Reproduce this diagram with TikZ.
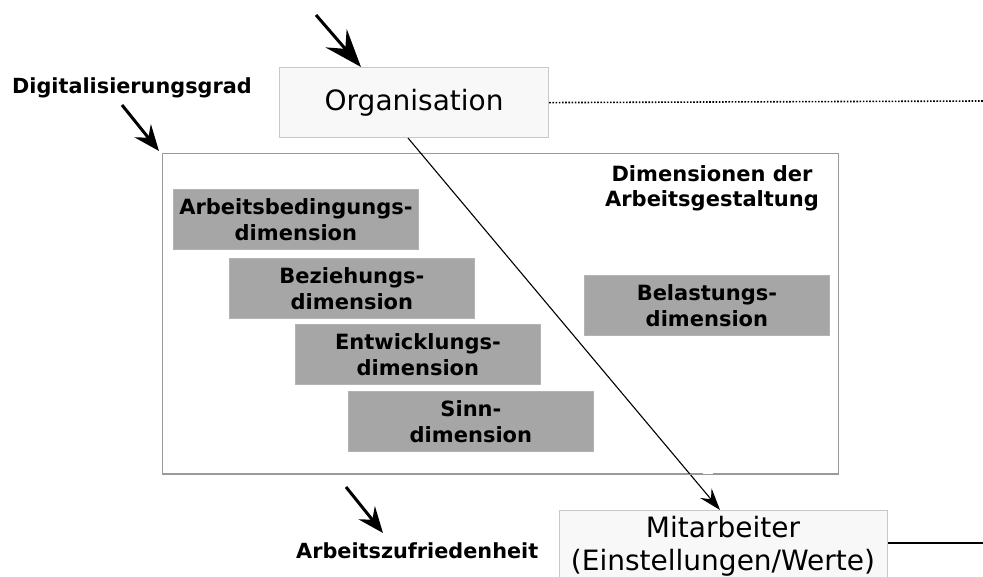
\documentclass[tikz,border=0pt]{standalone}
\usepackage{fontspec}
\setmainfont{DejaVu Sans}
\usetikzlibrary{arrows.meta,calc}
\definecolor{boxline}{HTML}{C8C8C8}
\definecolor{boxfill}{HTML}{F8F8F8}
\definecolor{dimfill}{HTML}{A6A6A6}
\definecolor{frameline}{HTML}{9A9A9A}
\tikzset{
  x=1pt, y=-1pt,
  plainbox/.style={draw=boxline, line width=1.2pt, fill=boxfill, inner sep=0pt, anchor=north west,
    font=\fontsize{28}{36}\selectfont, align=center},
  dimbox/.style={draw=dimfill!85!white, line width=0.8pt, fill=dimfill, inner sep=0pt, anchor=north west,
    minimum width=245pt, minimum height=60pt, font=\bfseries\fontsize{21}{26}\selectfont, align=center},
  label/.style={font=\bfseries\fontsize{20.8}{25}\selectfont, inner sep=0pt},
  bigarrow/.style={line width=3pt, -{Stealth[length=26pt,width=21pt,inset=9pt]}},
  hugearrow/.style={line width=3pt, -{Stealth[length=38pt,width=28pt,inset=14pt]}},
  thinarrow/.style={line width=1.1pt, -{Stealth[length=22pt,width=15pt,inset=8pt]}},
}
\begin{document}
\begin{tikzpicture}
\useasboundingbox (0,0) rectangle (983,577);

% frame for the design dimensions
\node[draw=frameline, line width=1pt, anchor=north west, minimum width=676pt, minimum height=320pt, inner sep=0pt] (frame) at (162,153) {};
\node[label, align=center, font=\bfseries\fontsize{21}{25}\selectfont] (title) at (712,188) {Dimensionen der\\Arbeitsgestaltung};

% dimension boxes
\node[dimbox] (d1) at (173,189) {Arbeitsbedingungs-\\dimension};
\node[dimbox] (d2) at (229,258) {Beziehungs-\\dimension};
\node[dimbox] (d3) at (295,324) {Entwicklungs-\\dimension};
\node[dimbox] (d4) at (348,391) {Sinn-\\dimension};
\node[dimbox] (d5) at (584,275) {Belastungs-\\dimension};

% organisation and employee
\node[plainbox, minimum width=269pt, minimum height=70pt] (org) at (279,67) {Organisation};
\node[plainbox, minimum width=328pt, minimum height=75pt, anchor=north west] (mit) at (559,510) {};
\node[font=\fontsize{28}{36}\selectfont, inner sep=0pt] (mit1) at (723,527) {Mitarbeiter};
\node[font=\fontsize{28}{36}\selectfont, inner sep=0pt] (mit2) at (723,563) {(Einstellungen/Werte)};

% side labels
\node[label, anchor=west] (dig) at (12,88) {Digitalisierungsgrad};
\node[label, anchor=west] (zuf) at (296,551) {Arbeitszufriedenheit};

% influence arrows
\coordinate (a1s) at (316,15);
\coordinate (a1e) at (361,67);
\coordinate (a2s) at (122,105);
\coordinate (a2e) at (159,151);
\coordinate (a3s) at (346,487);
\coordinate (a3e) at (383,533);
\draw[hugearrow] (a1s) -- (a1e);
\draw[bigarrow] (a2s) -- (a2e);
\draw[bigarrow] (a3s) -- (a3e);

% link from organisation down to the employee
\coordinate (os) at (408,138);
\coordinate (mt) at (720,510);
\draw[thinarrow] (os) -- (mt);
\fill[white] (703,467) rectangle (713,479);
\draw[frameline, line width=1pt] (frame.south west) -- (frame.south east);

% outgoing lines
\coordinate (dotend) at (983,101);
\coordinate (solidend) at (983,543);
\draw[line width=1.6pt, dash pattern=on 1.6pt off 1.6pt] (org.east) -- (dotend);
\draw[line width=1.5pt] (mit.east |- solidend) -- (solidend);
\end{tikzpicture}
\end{document}
